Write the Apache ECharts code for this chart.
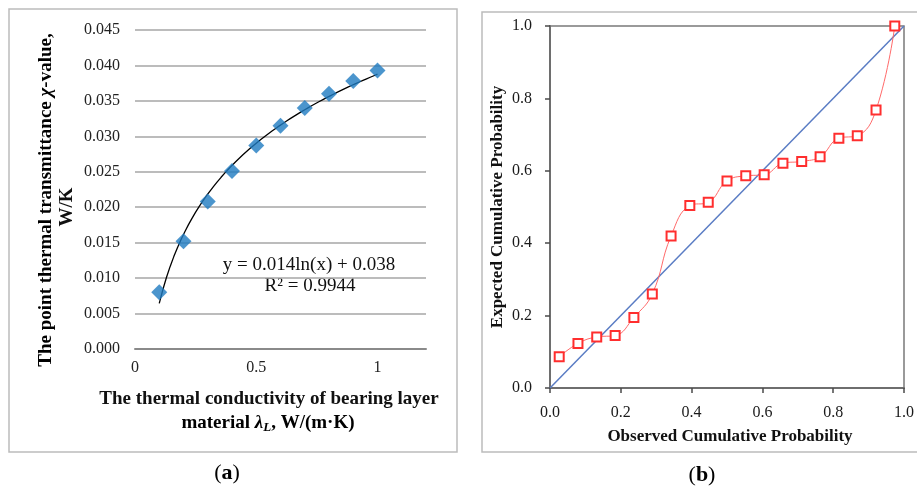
<!DOCTYPE html>
<html>
<head>
<meta charset="utf-8">
<script src="https://cdn.jsdelivr.net/npm/echarts@6/dist/echarts.min.js"></script>
<style>
html,body{margin:0;padding:0;background:#fff;}
#c{width:917px;height:488px;}
</style>
</head>
<body>
<div id="c"></div>
<script>
// Panel (a) data
var aX = [0.1, 0.2, 0.3, 0.4, 0.5, 0.6, 0.7, 0.8, 0.9, 1.0];
var aY = [0.0080, 0.0152, 0.0208, 0.0251, 0.0287, 0.0315, 0.0340, 0.0360, 0.0378, 0.0393];
var aEquation = "y = 0.014ln(x) + 0.038";
var aR2 = "R² = 0.9944";
// Panel (b) data
var bObserved = [0.026, 0.079, 0.132, 0.184, 0.237, 0.289, 0.342, 0.395, 0.447, 0.500,
                 0.553, 0.605, 0.658, 0.711, 0.763, 0.816, 0.868, 0.921, 0.974];
var bExpected = [0.086, 0.123, 0.141, 0.145, 0.195, 0.260, 0.420, 0.504, 0.513, 0.572,
                 0.586, 0.589, 0.621, 0.626, 0.639, 0.690, 0.697, 0.768, 1.000];
var bDiagonal = [[0, 0], [1, 1]];

// Logarithmic least-squares trendline fitted from panel (a) data
function logFit(xs, ys) {
  var n = xs.length, sl = 0, sy = 0, sll = 0, sly = 0;
  for (var i = 0; i < n; i++) {
    var l = Math.log(xs[i]);
    sl += l; sy += ys[i]; sll += l * l; sly += l * ys[i];
  }
  var a = (n * sly - sl * sy) / (n * sll - sl * sl);
  var b = (sy - a * sl) / n;
  return {a: a, b: b};
}
var fit = logFit(aX, aY);
var trend = [];
var x0 = aX[0], x1 = aX[aX.length - 1];
for (var k = 0; k <= 60; k++) {
  var xv = x0 + (x1 - x0) * k / 60;
  trend.push([xv, fit.a * Math.log(xv) + fit.b]);
}

var SERIF = "'Liberation Serif', 'Times New Roman', serif";
var chart = echarts.init(document.getElementById('c'), null, {renderer: 'canvas'});

var option = {
  backgroundColor: '#ffffff',
  animation: false,
  grid: [
    {left: 135, top: 30, width: 291, height: 319, show: false},
    {left: 550, top: 26, width: 361, height: 362, show: true, borderColor: '#7a7a7a', borderWidth: 1.5, backgroundColor: 'transparent'}
  ],
  xAxis: [
    {
      gridIndex: 0, type: 'value', min: 0, max: 1.2, interval: 0.5,
      axisLine: {show: true, lineStyle: {color: '#8a8a8a', width: 2}},
      axisTick: {show: false},
      splitLine: {show: false},
      axisLabel: {showMaxLabel: false, margin: 11, fontFamily: SERIF, fontSize: 16, color: '#222',
        formatter: function (v) { return String(v); }}
    },
    {
      gridIndex: 1, type: 'value', min: 0, max: 1, interval: 0.2,
      axisLine: {show: true, lineStyle: {color: '#6e6e6e', width: 2}},
      axisTick: {show: true, inside: false, length: 5, lineStyle: {color: '#4a4a4a', width: 1.5}},
      splitLine: {show: false},
      axisLabel: {margin: 17, fontFamily: SERIF, fontSize: 16, color: '#1a1a1a',
        formatter: function (v) { return v.toFixed(1); }}
    }
  ],
  yAxis: [
    {
      gridIndex: 0, type: 'value', min: 0, max: 0.045, interval: 0.005,
      axisLine: {show: false},
      axisTick: {show: false},
      splitLine: {show: true, lineStyle: {color: '#a6a6a6', width: 1.5}},
      axisLabel: {margin: 15, fontFamily: SERIF, fontSize: 16, color: '#222',
        formatter: function (v) { return v.toFixed(3); }}
    },
    {
      gridIndex: 1, type: 'value', min: 0, max: 1, interval: 0.2,
      axisLine: {show: true, lineStyle: {color: '#6e6e6e', width: 2}},
      axisTick: {show: true, inside: false, length: 5, lineStyle: {color: '#4a4a4a', width: 1.5}},
      splitLine: {show: false},
      axisLabel: {margin: 18, fontFamily: SERIF, fontSize: 16, color: '#1a1a1a',
        formatter: function (v) { return v.toFixed(1); }}
    }
  ],
  series: [
    {
      type: 'line', xAxisIndex: 0, yAxisIndex: 0, data: trend,
      showSymbol: false, symbol: 'none', smooth: false,
      lineStyle: {color: '#000', width: 1.3}, z: 3
    },
    {
      type: 'scatter', xAxisIndex: 0, yAxisIndex: 0,
      data: aX.map(function (x, i) { return [x, aY[i]]; }),
      symbol: 'diamond', symbolSize: 16,
      itemStyle: {color: '#1e7bc0'}, z: 4
    },
    {
      type: 'line', xAxisIndex: 1, yAxisIndex: 1, data: bDiagonal,
      symbol: 'none', lineStyle: {color: '#5a7cc4', width: 1.5}, z: 3
    },
    {
      type: 'line', xAxisIndex: 1, yAxisIndex: 1,
      data: bObserved.map(function (x, i) { return [x, bExpected[i]]; }),
      smooth: 0.45, symbol: 'rect', symbolSize: 9, showSymbol: true,
      lineStyle: {color: '#ff6a6a', width: 1},
      itemStyle: {color: '#ffffff', borderColor: '#ff2e2e', borderWidth: 2}, z: 4
    }
  ],
  graphic: [
    // panel borders
    {type: 'rect', shape: {x: 9, y: 9, width: 448, height: 443}, style: {fill: 'none', stroke: '#bcbcbc', lineWidth: 1.5}, silent: true},
    {type: 'rect', shape: {x: 482, y: 12, width: 445, height: 440}, style: {fill: 'none', stroke: '#bcbcbc', lineWidth: 1.5}, silent: true},
    // equation labels
    {type: 'text', x: 309, y: 265, style: {text: aEquation, font: '19px ' + SERIF, fill: '#111', textAlign: 'center', textVerticalAlign: 'middle'}},
    {type: 'text', x: 310, y: 286, style: {text: aR2, font: '19px ' + SERIF, fill: '#111', textAlign: 'center', textVerticalAlign: 'middle'}},
    // y-axis title (a)
    {type: 'text', x: 46, y: 200, rotation: Math.PI / 2,
      style: {
        text: '{b|The point thermal transmittance }{bi|χ}{b|-value,}',
        textAlign: 'center', textVerticalAlign: 'middle',
        rich: {
          b: {fontFamily: SERIF, fontWeight: 'bold', fontSize: 19, color: '#111'},
          bi: {fontFamily: SERIF, fontWeight: 'bold', fontStyle: 'italic', fontSize: 19, color: '#111'}
        }
      }},
    {type: 'text', x: 67, y: 207, rotation: Math.PI / 2,
      style: {text: 'W/K', font: 'bold 19px ' + SERIF, fill: '#111', textAlign: 'center', textVerticalAlign: 'middle'}},
    // x-axis title (a)
    {type: 'text', x: 269, y: 399,
      style: {text: 'The thermal conductivity of bearing layer', font: 'bold 19px ' + SERIF, fill: '#111', textAlign: 'center', textVerticalAlign: 'middle'}},
    {type: 'text', x: 268, y: 423,
      style: {
        text: '{b|material }{bi|λ}{sub|L}{b|, W/(m·K)}',
        textAlign: 'center', textVerticalAlign: 'middle',
        rich: {
          b: {fontFamily: SERIF, fontWeight: 'bold', fontSize: 19, color: '#111'},
          bi: {fontFamily: SERIF, fontWeight: 'bold', fontStyle: 'italic', fontSize: 19, color: '#111'},
          sub: {fontFamily: SERIF, fontWeight: 'bold', fontStyle: 'italic', fontSize: 13, color: '#111', padding: [9, 0, 0, 0]}
        }
      }},
    // panel (b) axis titles
    {type: 'text', x: 498, y: 207, rotation: Math.PI / 2,
      style: {text: 'Expected Cumulative Probability', font: 'bold 17px ' + SERIF, fill: '#111', textAlign: 'center', textVerticalAlign: 'middle'}},
    {type: 'text', x: 730, y: 437,
      style: {text: 'Observed Cumulative Probability', font: 'bold 17px ' + SERIF, fill: '#111', textAlign: 'center', textVerticalAlign: 'middle'}},
    // panel captions
    {type: 'text', x: 227, y: 473,
      style: {text: '{n|(}{b|a}{n|)}', textAlign: 'center', textVerticalAlign: 'middle',
        rich: {n: {fontFamily: SERIF, fontSize: 22, color: '#111'}, b: {fontFamily: SERIF, fontSize: 22, fontWeight: 'bold', color: '#111'}}}},
    {type: 'text', x: 702, y: 475,
      style: {text: '{n|(}{b|b}{n|)}', textAlign: 'center', textVerticalAlign: 'middle',
        rich: {n: {fontFamily: SERIF, fontSize: 22, color: '#111'}, b: {fontFamily: SERIF, fontSize: 22, fontWeight: 'bold', color: '#111'}}}}
  ]
};
chart.setOption(option);
</script>
</body>
</html>
